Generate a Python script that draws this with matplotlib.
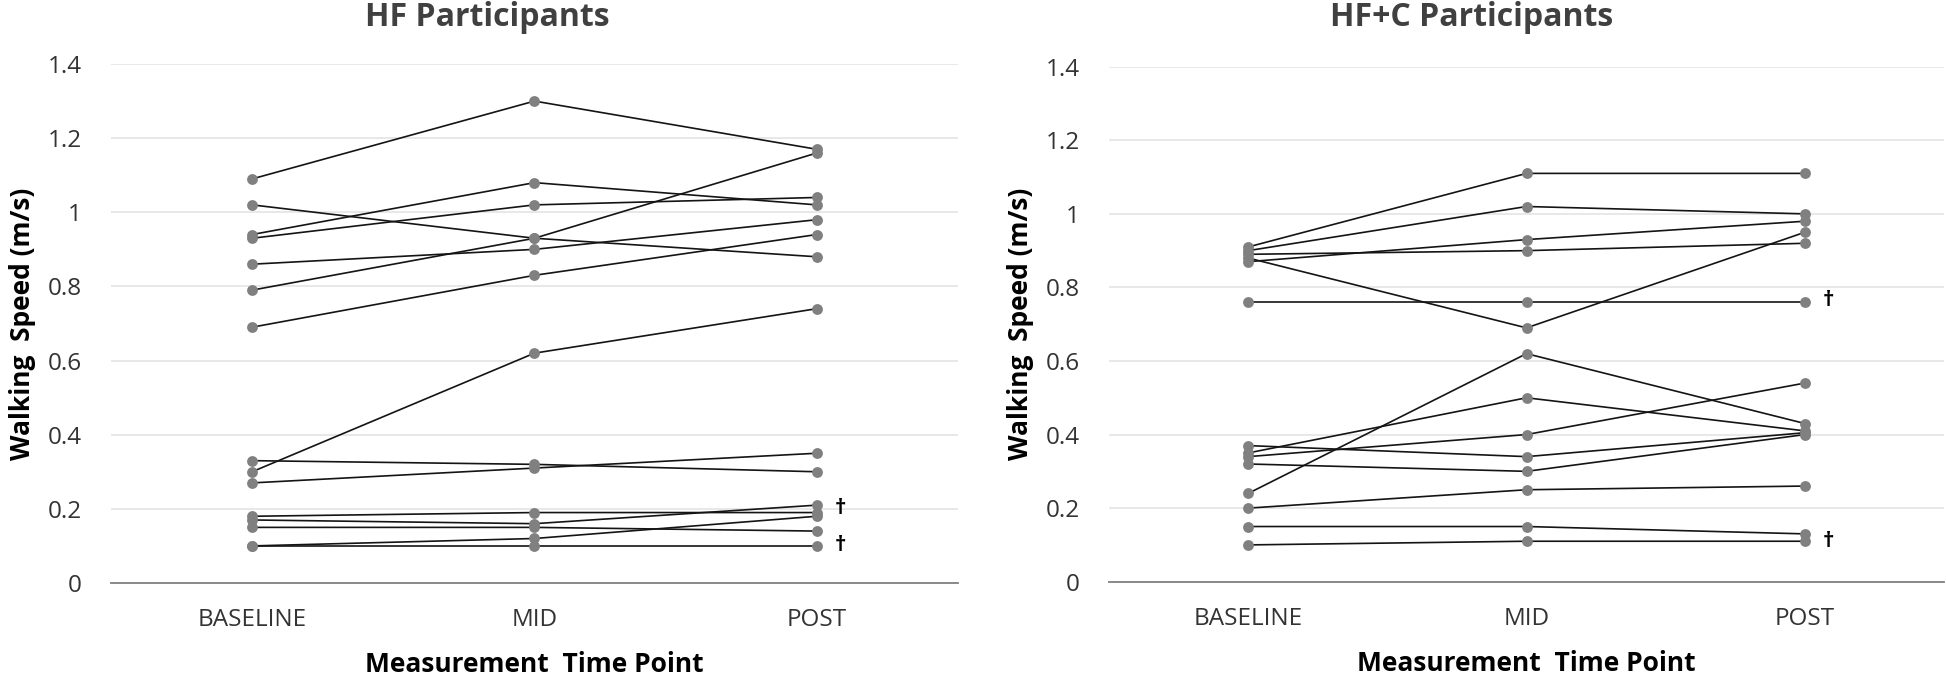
"""Walking speed per participant across BASELINE / MID / POST, two groups side by side."""
import matplotlib
matplotlib.use("Agg")
import matplotlib.pyplot as plt

plt.rcParams["font.family"] = ["Open Sans", "DejaVu Sans"]

TIMEPOINTS = ["BASELINE", "MID", "POST"]

# HF group, one entry per participant
hf_baseline = [1.09, 1.02, 0.94, 0.93, 0.86, 0.79, 0.69, 0.30, 0.33, 0.27, 0.18, 0.17, 0.15, 0.10, 0.10]
hf_mid      = [1.30, 0.93, 1.08, 1.02, 0.90, 0.93, 0.83, 0.62, 0.32, 0.31, 0.19, 0.16, 0.15, 0.12, 0.10]
hf_post     = [1.17, 0.88, 1.02, 1.04, 0.98, 1.16, 0.94, 0.74, 0.30, 0.35, 0.19, 0.21, 0.14, 0.18, 0.10]
hf_dagger_y = [0.20, 0.10]

# HF+C group
hfc_baseline = [0.91, 0.90, 0.87, 0.89, 0.88, 0.76, 0.24, 0.35, 0.34, 0.37, 0.32, 0.20, 0.15, 0.10]
hfc_mid      = [1.11, 1.02, 0.93, 0.90, 0.69, 0.76, 0.62, 0.50, 0.40, 0.34, 0.30, 0.25, 0.15, 0.11]
hfc_post     = [1.11, 1.00, 0.98, 0.92, 0.95, 0.76, 0.43, 0.41, 0.54, 0.405, 0.40, 0.26, 0.13, 0.11]
hfc_dagger_y = [0.765, 0.11]

YTICKS = [0, 0.2, 0.4, 0.6, 0.8, 1, 1.2, 1.4]
YTICKLABELS = ["0", "0.2", "0.4", "0.6", "0.8", "1", "1.2", "1.4"]

MARKER_C = "#808080"
LINE_C = "#141414"
GRID_C = "#e6e6e6"
TEXT_C = "#404040"


def draw_panel(ax, base, mid, post, daggers, title, title_x, ylab_x):
    xs = range(len(TIMEPOINTS))
    for b, m, p in zip(base, mid, post):
        ax.plot(xs, [b, m, p], color=LINE_C, lw=1.2, zorder=2,
                marker="o", ms=7.8, mfc=MARKER_C, mec=MARKER_C, mew=0)
    for y in daggers:
        ax.annotate("\u2020", xy=(2, y), xytext=(13, 0), textcoords="offset points",
                    ha="left", va="center", fontsize=16, fontweight="bold", color="black")
    ax.set_xlim(-0.5, 2.5)
    ax.set_ylim(0, 1.4)
    ax.set_xticks(list(xs))
    ax.set_xticklabels(TIMEPOINTS)
    ax.set_yticks(YTICKS)
    ax.set_yticklabels(YTICKLABELS)
    ax.tick_params(length=0, labelsize=17.5, colors="#333333")
    ax.tick_params(axis="x", pad=18)
    ax.tick_params(axis="y", pad=21)
    for yv in YTICKS[1:]:
        ax.axhline(yv, color=GRID_C, lw=1.3, zorder=0)
    for s in ("left", "right", "top"):
        ax.spines[s].set_visible(False)
    ax.spines["bottom"].set_color("#7f7f7f")
    ax.spines["bottom"].set_linewidth(1.3)
    ax.text(ylab_x, 0.5, "Walking  Speed (m/s)", transform=ax.transAxes, rotation=90,
            ha="center", va="center", fontsize=19, fontweight="bold", color="black")
    ax.text(0.5, -0.158, "Measurement  Time Point", transform=ax.transAxes,
            ha="center", va="center", fontsize=19, fontweight="bold", color="black")
    ax.figure.text(title_x, 0.974, title, ha="center", va="center",
                   fontsize=23, fontweight="bold", color=TEXT_C)


fig = plt.figure(figsize=(19.46, 6.76), dpi=100)
ax_l = fig.add_axes([0.0570, 0.1376, 0.4353, 0.7677])
ax_r = fig.add_axes([0.5699, 0.1395, 0.4291, 0.7618])

draw_panel(ax_l, hf_baseline, hf_mid, hf_post, hf_dagger_y,
           "HF Participants", 0.2503, -0.104)
draw_panel(ax_r, hfc_baseline, hfc_mid, hfc_post, hfc_dagger_y,
           "HF+C Participants", 0.7564, -0.106)

fig.savefig("out.png", dpi=100, facecolor="white")
